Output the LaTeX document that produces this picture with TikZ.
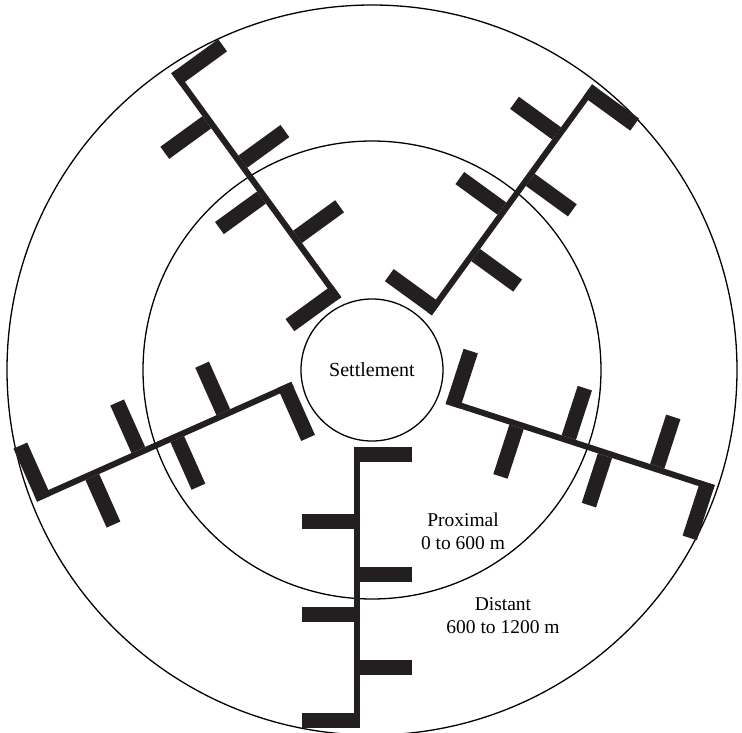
\documentclass[tikz,border=0pt]{standalone}
\usepackage{fontspec}
\setmainfont{Liberation Serif}
\definecolor{barblack}{HTML}{231F20}
\begin{document}
\begin{tikzpicture}[x=1pt,y=1pt,
    ring/.style={draw,line width=1.3pt},
    bar/.style={fill=barblack},
    label/.style={font=\fontsize{19.5}{23}\selectfont,align=center}]
    \useasboundingbox (-372,-362) rectangle (370,370);
    \draw[ring] (0,0) circle (365);
    \draw[ring] (0,0) circle (229);
    \node [ring, circle, minimum size=142pt, inner sep=0pt, font=\fontsize{20}{24}\selectfont] (settlement) at (0,0) {Settlement};
    \foreach \a/\dx/\dy in {0/0/0, 72/6/7, 144/0/3, 216/0/0, 294/-3/3}{
        \begin{scope}[shift={(\dx,\dy)},rotate=\a]
            \fill[bar] (-18,-77) rectangle (-12,-358);
            \fill[bar] (-18,-77) rectangle (40,-92);
            \fill[bar] (-70,-144) rectangle (-18,-159);
            \fill[bar] (-12,-197) rectangle (40,-212);
            \fill[bar] (-70,-237) rectangle (-18,-252);
            \fill[bar] (-12,-290) rectangle (40,-305);
            \fill[bar] (-70,-343) rectangle (-12,-358);
        \end{scope}
    }
    \node [label] (prox) at (91,-161) {Proximal\\0 to 600 m};
    \node [label] (dist) at (131,-246) {Distant\\600 to 1200 m};
\end{tikzpicture}
\end{document}
